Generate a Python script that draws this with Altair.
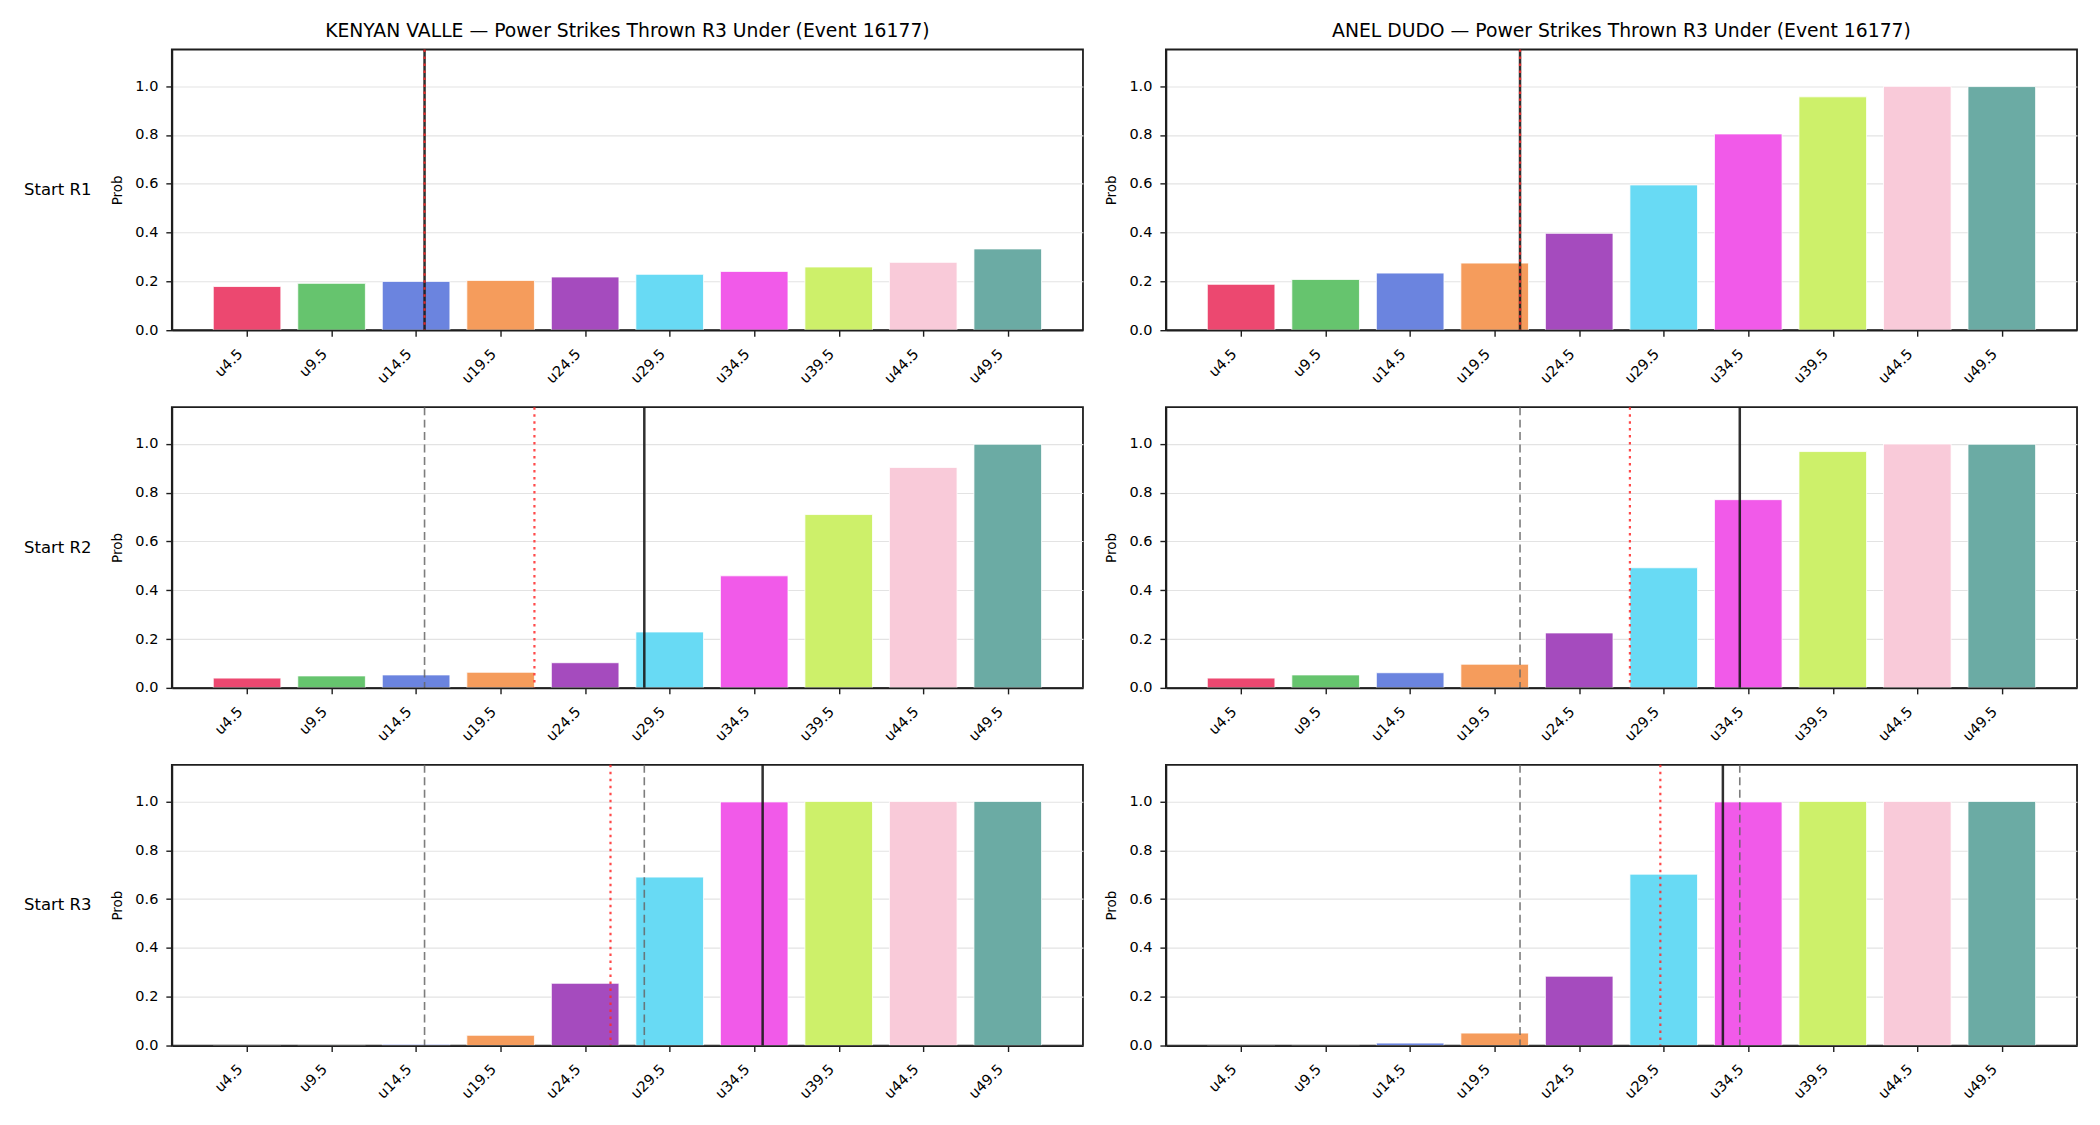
import altair as alt
import pandas as pd

# Under-thresholds for power strikes thrown in R3
thresholds = [4.5, 9.5, 14.5, 19.5, 24.5, 29.5, 34.5, 39.5, 44.5, 49.5]
bucket_labels = ["u4.5", "u9.5", "u14.5", "u19.5", "u24.5", "u29.5", "u34.5", "u39.5", "u44.5", "u49.5"]
bar_colors = ["#EC4870", "#66C46E", "#6B84DF", "#F59C5C", "#A54BBE",
              "#68DAF4", "#F15AE9", "#CDF06A", "#F9CAD9", "#6BABA4"]

fighters = ["KENYAN VALLE", "ANEL DUDO"]
rounds = ["Start R1", "Start R2", "Start R3"]
event_title = "Power Strikes Thrown R3 Under (Event 16177)"

# P(under) per threshold, by fighter and starting round
valle_r1 = [0.179, 0.192, 0.200, 0.204, 0.218, 0.229, 0.241, 0.259, 0.278, 0.333]
valle_r2 = [0.040, 0.049, 0.053, 0.064, 0.103, 0.229, 0.459, 0.710, 0.903, 0.998]
valle_r3 = [0.000, 0.001, 0.005, 0.042, 0.255, 0.690, 0.998, 1.000, 1.000, 1.000]
dudo_r1 = [0.188, 0.208, 0.234, 0.275, 0.397, 0.595, 0.804, 0.956, 0.999, 0.998]
dudo_r2 = [0.040, 0.053, 0.062, 0.097, 0.225, 0.492, 0.771, 0.968, 0.999, 0.998]
dudo_r3 = [0.000, 0.001, 0.010, 0.051, 0.284, 0.702, 0.998, 1.000, 1.000, 1.000]

# Projected R3 strikes (solid) and pace estimate (dotted) at the start of each round
valle_proj = [15.0, 28.0, 35.0]
valle_pace = [15.0, 21.5, 26.0]
dudo_proj = [21.0, 34.0, 33.0]
dudo_pace = [21.0, 27.5, 29.3]

probs = {0: [valle_r1, valle_r2, valle_r3], 1: [dudo_r1, dudo_r2, dudo_r3]}
proj = {0: valle_proj, 1: dudo_proj}
pace = {0: valle_pace, 1: dudo_pace}

BAR_HALF = 2.0            # bar width 0.8 of the 5-strike step
X_DOMAIN = [0.05, 53.95]
PANEL_W, PANEL_H = 912, 281

FONT = "DejaVu Sans"
SPINE = "#1e1e1e"
xs = alt.Scale(domain=X_DOMAIN, nice=False, zero=False)
ys = alt.Scale(domain=[0, 1.15], nice=False, zero=True)


def panel(fi, ri):
    bars_df = pd.DataFrame({
        "threshold": thresholds,
        "bucket": bucket_labels,
        "prob": probs[fi][ri],
    })
    bars = alt.Chart(bars_df).transform_calculate(
        x0=f"datum.threshold - {BAR_HALF}",
        x1=f"datum.threshold + {BAR_HALF}",
    ).mark_bar(stroke="white", strokeWidth=0.8).encode(
        # bottom spine and ticks drawn above the bars
        x=alt.X("x0:Q", scale=xs, title=None,
                axis=alt.Axis(values=thresholds, labelExpr="'u' + datum.value",
                              labelAngle=-45, labelAlign="right", labelBaseline="middle",
                              labelPadding=15.5, labelOffset=-7, grid=False,
                              domain=True, domainColor=SPINE, domainWidth=1.8, zindex=1,
                              tickSize=6, tickWidth=1.4, tickColor=SPINE,
                              labelFontSize=14.5, labelFont=FONT, labelColor="#000")),
        x2="x1:Q",
        # y grid stays behind the bars
        y=alt.Y("prob:Q", scale=ys,
                axis=alt.Axis(values=[0, 0.2, 0.4, 0.6, 0.8, 1.0], format=".1f",
                              title="Prob", titleFontSize=13.5, titleFont=FONT,
                              titleFontWeight="normal", titleColor="#000",
                              titleAngle=270, titleX=-54.5, titleY=PANEL_H / 2,
                              titleAlign="center", titleBaseline="middle",
                              labelPadding=8,
                              domain=True, domainColor=SPINE, domainWidth=1.8,
                              tickSize=6, tickWidth=1.4, tickColor=SPINE,
                              labelFontSize=14.5, labelFont=FONT, labelColor="#000",
                              grid=True, gridColor="#e3e3e3", gridWidth=1.1)),
        y2=alt.datum(0),
        color=alt.Color("bucket:N", scale=alt.Scale(domain=bucket_labels, range=bar_colors),
                        legend=None),
    )

    solid_df = pd.DataFrame({"value": [proj[fi][ri]]})
    dotted_df = pd.DataFrame({"value": [pace[fi][ri]]})
    dashed_df = pd.DataFrame({"value": proj[fi][:ri]}, dtype=float)

    solid = alt.Chart(solid_df).mark_rule(color="#1a1a1a", strokeWidth=2.5, opacity=0.9).encode(
        x=alt.X("value:Q", scale=xs, title=None))
    dotted = alt.Chart(dotted_df).mark_rule(color="#ff2a2a", strokeWidth=2.2, opacity=0.85,
                                            strokeDash=[2.5, 4.5]).encode(
        x=alt.X("value:Q", scale=xs, title=None))
    dashed = alt.Chart(dashed_df).mark_rule(color="#666666", strokeWidth=1.6, opacity=0.85,
                                            strokeDash=[8, 4.5]).encode(
        x=alt.X("value:Q", scale=xs, title=None))

    layers = [bars, solid, dotted, dashed]

    if fi == 0:
        label_df = pd.DataFrame({"label": [rounds[ri]]})
        row_label = alt.Chart(label_df).mark_text(
            align="left", baseline="middle", fontSize=16.5, font=FONT, color="#000"
        ).encode(text="label:N", x=alt.value(-148), y=alt.value(PANEL_H / 2))
        layers.append(row_label)

    props = dict(width=PANEL_W, height=PANEL_H)
    if ri == 0:
        props["title"] = alt.TitleParams(
            text=f"{fighters[fi]} \u2014 {event_title}",
            fontSize=18.8, font=FONT, fontWeight="normal", color="#000",
            anchor="middle", offset=7)
    return alt.layer(*layers).properties(**props)


panels = [panel(fi, ri) for ri in range(3) for fi in range(2)]

chart = alt.concat(
    *panels, columns=2, bounds="flush", spacing={"row": 77, "column": 83}
).properties(
    padding={"left": 23, "top": 21, "right": 22, "bottom": 10},
    background="white",
).configure_view(
    stroke=SPINE, strokeWidth=1.8, fill="white"
)

chart.save("out.html", embed_options={"renderer": "svg", "actions": False})
